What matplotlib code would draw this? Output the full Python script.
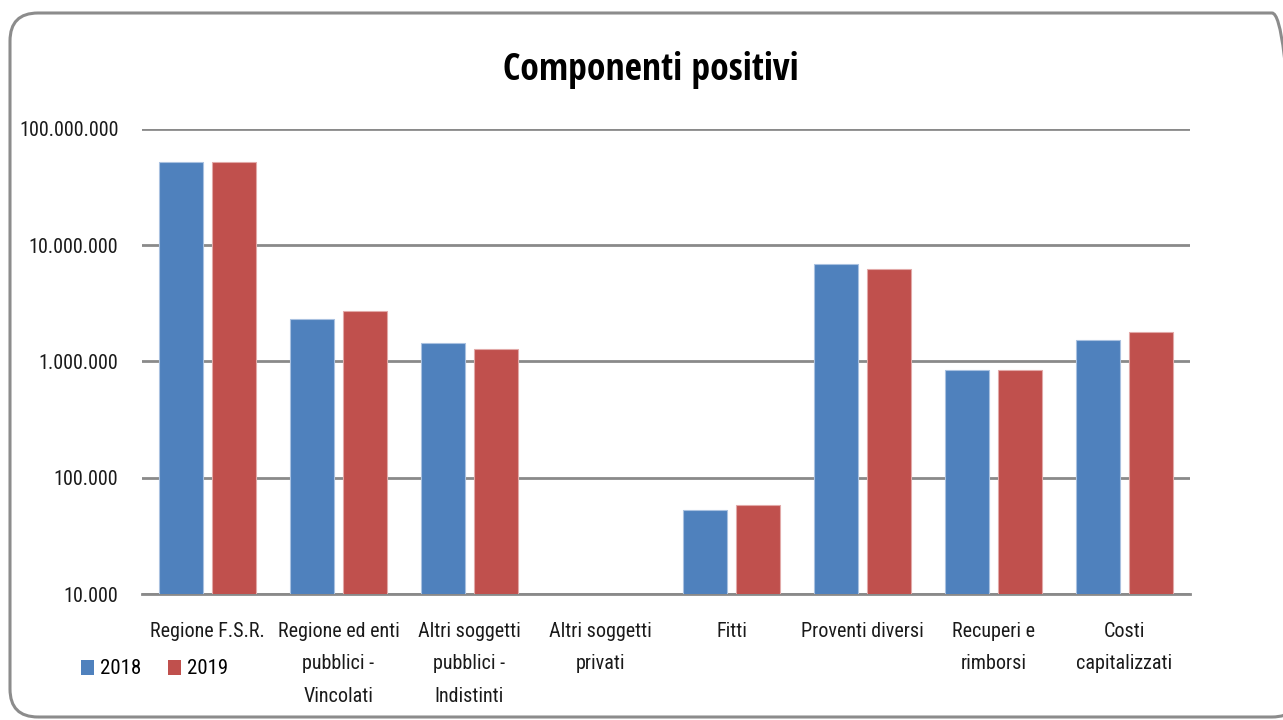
import numpy as np
import matplotlib
matplotlib.use("Agg")
import matplotlib.pyplot as plt
from matplotlib.patches import FancyBboxPatch, Patch
from matplotlib.ticker import FuncFormatter, FixedLocator, NullLocator
from matplotlib.transforms import IdentityTransform

plt.rcParams['font.family'] = ['Roboto Condensed', 'DejaVu Sans']

# Data
categories = [
    "Regione F.S.R.",
    "Regione ed enti\npubblici -\nVincolati",
    "Altri soggetti\npubblici -\nIndistinti",
    "Altri soggetti\nprivati",
    "Fitti",
    "Proventi diversi",
    "Recuperi e\nrimborsi",
    "Costi\ncapitalizzati",
]
values_2018 = [51_800_000, 2_320_000, 1_440_000, 0, 53_300, 6_920_000, 845_000, 1_530_000]
values_2019 = [51_900_000, 2_720_000, 1_280_000, 0, 58_000, 6_220_000, 845_000, 1_800_000]
series_labels = ["2018", "2019"]
y_ticks = [10_000, 100_000, 1_000_000, 10_000_000, 100_000_000]

blue = "#4F81BD"
red = "#C0504D"

W, H = 1283, 720
fig = plt.figure(figsize=(W / 100, H / 100), dpi=100)
fig.patch.set_facecolor("white")

# Rounded outer frame of the chart area
frame = FancyBboxPatch((10, 3), 1290, 704,
                       boxstyle="round,pad=0,rounding_size=28",
                       transform=IdentityTransform(),
                       facecolor="none", edgecolor="#8c8c8c", linewidth=2.2,
                       zorder=-1)
fig.patches.append(frame)

ax = fig.add_axes([142 / W, 1 - 594 / H, (1190 - 142) / W, (594 - 129) / H])
ax.set_facecolor("none")
ax.set_yscale("log")
ax.set_ylim(10_000, 100_000_000)

x = np.arange(len(categories))
bw = 0.336
off = 0.206
ax.bar(x - off, values_2018, width=bw, color=blue, edgecolor="#a9c1e0",
       linewidth=0.8, zorder=3, label=series_labels[0])
ax.bar(x + off, values_2019, width=bw, color=red, edgecolor="#e2a9a8",
       linewidth=0.8, zorder=3, label=series_labels[1])
ax.set_xlim(-0.5, len(categories) - 0.5)

ax.yaxis.set_major_locator(FixedLocator(y_ticks))
ax.yaxis.set_minor_locator(NullLocator())
ax.yaxis.set_major_formatter(FuncFormatter(lambda v, p: f"{v:,.0f}".replace(",", ".")))
ax.grid(axis="y", color="#8a8a8a", linewidth=2.0, zorder=1)
ax.set_axisbelow(True)

for s in ["top", "right", "left"]:
    ax.spines[s].set_visible(False)
ax.spines["bottom"].set_color("#8a8a8a")
ax.spines["bottom"].set_linewidth(2.0)

ax.set_xticks(x)
ax.set_xticklabels(categories, fontsize=14.5, linespacing=1.9, color="#1a1a1a",
                   va="top")
ax.tick_params(axis="x", length=0, pad=20)
ax.tick_params(axis="y", length=0, pad=17, labelsize=14.5, labelcolor="#1a1a1a")

fig.text(651 / W, 1 - 70 / H, "Componenti positivi", ha="center", va="center",
         fontsize=27, fontweight="bold", color="black",
         family=["Open Sans Condensed", "DejaVu Sans"])

handles = [Patch(facecolor=blue, edgecolor="none"), Patch(facecolor=red, edgecolor="none")]
fig.legend(handles, series_labels, loc="center left",
           bbox_to_anchor=(73 / W, 1 - 669 / H), frameon=False, ncol=2,
           fontsize=15, handlelength=0.6, handleheight=0.75,
           handletextpad=0.3, columnspacing=1.3, borderaxespad=0)

fig.savefig("out.png", dpi=100)
